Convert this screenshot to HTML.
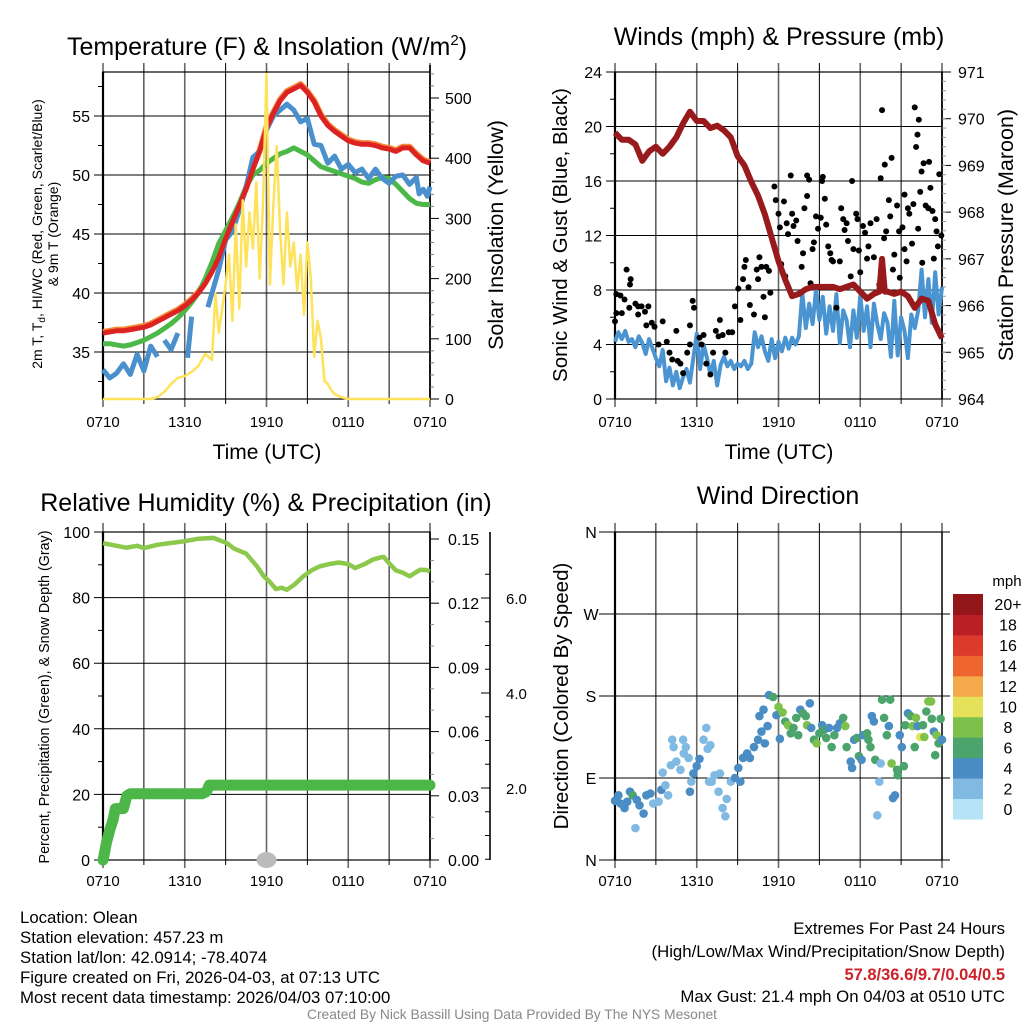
<!DOCTYPE html>
<html><head><meta charset="utf-8"><title>Olean Meteogram</title>
<style>
html,body{margin:0;padding:0;background:#fff;}
svg{display:block;font-family:"Liberation Sans",Arial,sans-serif;}
</style></head>
<body>
<svg id="fig" width="1024" height="1024" viewBox="0 0 1024 1024" xmlns="http://www.w3.org/2000/svg"></svg>
<script>
// ---------- DATA ----------
const timeLabels = ["0710","1310","1910","0110","0710"];
const tempHours = [0,0.5,1,1.5,2,2.5,3,3.5,4,4.5,5,5.5,6,6.5,7,7.5,8,8.5,9,9.5,10,10.5,11,11.5,12,12.5,13,13.5,14,14.5,15,15.5,16,16.5,17,17.5,18,18.5,19,19.5,20,20.5,21,21.5,22,22.5,23,23.5,24];
const tempRed = [36.6,36.7,36.8,36.8,36.9,37.0,37.1,37.3,37.6,37.9,38.2,38.5,38.9,39.4,40.0,40.8,41.8,43.0,44.6,46.0,47.4,48.8,50.5,52.0,54.0,55.2,56.3,57.0,57.3,57.6,57.0,56.2,55.0,54.2,53.7,53.3,52.9,52.7,52.6,52.6,52.5,52.3,52.2,52.0,52.3,52.3,51.7,51.2,51.0];
const temp9mOrange = [36.7,36.8,36.9,36.9,37.0,37.1,37.2,37.4,37.7,38.0,38.3,38.6,39.0,39.5,40.1,40.9,41.9,43.1,44.7,46.1,47.5,48.9,50.6,52.1,54.1,55.3,56.4,57.1,57.4,57.7,57.1,56.3,55.1,54.3,53.8,53.4,53.0,52.8,52.7,52.7,52.6,52.4,52.3,52.1,52.4,52.4,51.8,51.3,51.1];
const dewGreen = [35.7,35.7,35.6,35.5,35.6,35.8,36.0,36.3,36.6,37.0,37.4,37.9,38.5,39.2,40.0,41.2,42.6,44.2,45.3,46.4,47.6,49.0,50.0,50.4,51.0,51.4,51.8,52.0,52.3,52.0,51.7,51.2,50.7,50.5,50.3,50.1,49.9,49.7,49.4,49.3,49.6,49.8,49.7,49.2,48.6,48.0,47.6,47.5,47.5];
const windChillBlue = [33.5,32.8,33.2,34.0,33.1,34.8,33.4,35.5,34.6,null,36.0,35.2,36.6,null,34.5,38.0,null,39.5,null,38.8,42.0,44.5,45.2,47.0,49.0,51.5,52.0,53.8,55.0,55.5,56.0,55.5,54.5,54.8,52.6,52.5,51.0,51.6,50.5,50.9,50.2,50.5,49.7,50.5,49.7,49.3,49.9,50.0,49.2,49.8,48.4,48.8,48.2,49.0];
const windChillHours = [0,0.5,1,1.5,2,2.5,3,3.5,4,4.2,4.5,5,5.5,5.8,6.2,6.5,6.8,7.2,7.5,7.7,8.5,9,9.5,10,10.5,11,11.5,12,12.5,13,13.5,14,14.5,15,15.5,16,16.5,17,17.5,18,18.5,19,19.5,20,20.5,21,21.5,22,22.5,23,23.2,23.5,23.8,24];
const insolHours = [0,3.5,4,4.5,5,5.5,6,6.5,7,7.5,8,8.25,8.5,8.75,9,9.25,9.5,9.75,10,10.25,10.5,10.75,11,11.25,11.5,11.75,12,12.25,12.5,12.75,13,13.25,13.5,13.75,14,14.25,14.5,14.75,15,15.25,15.5,15.75,16,16.25,16.5,16.75,17,17.5,18,18.5,24];
const insolYellow = [0,0,3,12,25,35,38,45,55,75,65,175,110,150,190,240,130,290,150,330,220,310,250,360,200,330,540,190,320,420,280,190,310,220,260,180,240,140,260,200,70,130,100,30,25,15,8,3,0,0,0];
const windHours = [0,0.25,0.5,0.75,1,1.25,1.5,1.75,2,2.25,2.5,2.75,3,3.25,3.5,3.75,4,4.25,4.5,4.75,5,5.25,5.5,5.75,6,6.25,6.5,6.75,7,7.25,7.5,7.75,8,8.25,8.5,8.75,9,9.25,9.5,9.75,10,10.25,10.5,10.75,11,11.25,11.5,11.75,12,12.25,12.5,12.75,13,13.25,13.5,13.75,14,14.25,14.5,14.75,15,15.25,15.5,15.75,16,16.25,16.5,16.75,17,17.25,17.5,17.75,18,18.25,18.5,18.75,19,19.25,19.5,19.75,20,20.25,20.5,20.75,21,21.25,21.5,21.75,22,22.25,22.5,22.75,23,23.25,23.5,23.75,24];
const windBlue = [4.2,4.9,4.4,5.0,4.2,4.4,3.8,4.6,4.1,3.3,4.4,3.7,3.0,2.4,3.6,1.3,2.3,1.0,2.0,0.8,1.6,2.2,1.2,3.0,4.8,2.2,4.0,3.0,1.8,2.8,1.0,2.5,3.1,2.4,2.8,2.2,2.6,2.4,2.8,2.2,2.6,4.9,3.8,4.6,3.5,2.8,4.4,3.0,4.2,3.5,4.5,3.7,4.5,4.0,4.6,7.8,5.2,7.0,5.5,8.0,5.8,7.5,4.8,6.8,5.0,7.7,4.1,6.5,5.8,3.8,6.5,4.5,7.6,5.0,6.8,3.8,7.0,5.5,4.4,6.3,5.6,3.1,7.2,3.2,6.0,5.0,3.0,6.2,5.2,6.5,9.5,6.0,8.8,5.6,9.3,6.2,8.2,5.8,4.6];
const pressureHours = [0,0.5,1,1.5,2,2.5,3,3.5,4,4.5,5,5.5,6,6.5,7,7.5,8,8.5,9,9.5,10,10.5,11,11.5,12,12.5,13,13.5,14,14.5,15,15.5,16,16.5,17,17.5,18,18.5,19,19.4,19.6,19.8,20,20.5,21,21.5,22,22.5,23,23.5,24];
const pressureMaroon = [969.7,969.55,969.55,969.45,969.1,969.3,969.4,969.25,969.4,969.6,969.9,970.15,969.95,969.95,969.8,969.85,969.75,969.6,969.2,969.0,968.65,968.35,967.95,967.45,966.95,966.55,966.2,966.25,966.35,966.4,966.4,966.4,966.4,966.35,966.4,966.45,966.3,966.15,966.25,966.3,967.0,966.3,966.3,966.25,966.3,966.2,965.95,966.15,966.1,965.6,965.3];
const gustHours = [0,0.1,0.1,0.4,0.5,0.7,0.85,1.15,1.1,1.05,1.5,1.7,1.7,1.95,2.2,2.45,2.3,2.7,2.9,3.2,3.5,3.8,4.0,4.2,4.5,4.6,4.8,5.0,5.3,5.5,5.7,5.8,5.5,6.2,6.35,6.5,6.7,7.0,7.2,7.4,7.7,7.6,7.9,8.1,8.35,8.6,8.8,9.05,9.2,9.4,9.5,9.6,9.8,9.9,10.2,10.4,10.5,10.6,10.75,10.9,11.0,11.1,11.3,11.4,11.7,11.8,12.0,12.1,12.2,12.4,12.5,12.6,12.7,12.9,13.0,13.1,13.3,13.4,13.7,13.8,13.9,14.1,14.1,14.25,14.35,14.5,14.6,14.75,14.9,15.1,15.2,15.25,15.4,15.5,15.65,15.8,15.9,16.0,16.25,16.5,16.6,16.75,16.85,17.0,17.1,17.3,17.4,17.5,17.7,17.8,17.9,18.0,18.2,18.35,18.5,18.6,18.75,19.0,19.2,19.4,19.5,19.6,19.75,19.8,19.9,20.1,20.2,20.3,20.4,20.5,20.7,20.85,20.9,21.1,21.25,21.25,21.4,21.5,21.6,21.8,21.9,22.0,22.1,22.2,22.3,22.25,22.4,22.5,22.55,22.65,22.8,23.0,23.05,23.15,23.3,23.4,23.5,23.6,23.7,23.8,23.95];
const gustBlack = [5.7,6.3,7.7,7.6,6.3,7.3,9.5,8.8,8.4,6.7,7.0,6.8,6.2,6.8,6.4,6.8,5.4,5.6,5.3,4.0,5.7,4.2,3.4,2.9,5.0,2.8,2.6,1.9,3.4,4.0,7.2,6.7,5.4,4.5,4.0,4.7,2.6,1.8,3.4,5.0,5.8,4.6,4.7,3.4,4.9,4.9,6.8,8.1,5.8,8.8,9.7,10.2,8.2,6.9,6.2,9.5,8.8,10.4,9.7,7.5,6.0,9.7,9.4,7.8,15.6,14.6,13.6,12.6,9.9,14.5,9.0,12.9,12.1,16.4,13.6,12.7,13.1,11.6,9.7,10.7,14.0,14.9,16.4,16.1,8.5,11.0,11.5,13.4,12.5,13.3,16.0,16.3,14.7,12.8,11.2,10.7,10.2,10.1,6.7,10.1,14.0,13.2,12.4,12.9,11.6,9.0,16.0,11.0,13.6,13.2,10.9,9.3,12.7,12.2,10.3,11.2,12.9,10.4,13.2,8.4,16.2,21.2,11.8,17.2,12.3,14.6,13.4,17.7,9.5,10.6,14.2,12.3,8.9,12.6,11.0,15.0,10.1,14.0,13.6,11.4,14.3,21.4,18.5,19.4,20.5,12.5,15.2,16.7,10.0,17.3,14.2,14.0,17.4,15.5,13.8,10.3,13.2,12.3,11.2,16.5,12.0];
const rhHours = [0,1.25,1.7,2.5,3,4,4.7,6,6.9,8.1,9.1,9.6,10.5,11.3,11.8,12.3,12.7,13.1,13.5,14.0,14.7,15.3,15.9,16.6,17.3,18.0,18.5,19.2,19.8,20.4,20.6,21.0,21.5,22.0,22.5,23.0,23.3,23.7,24];
const rhGreen = [96.6,95.6,95.2,95.8,95.1,96.1,96.5,97.2,97.9,98.2,96.6,95.0,93.4,89.5,86.5,84.5,82.6,83.0,82.4,83.8,86.5,88.3,89.5,90.2,90.7,90.2,89.0,90.2,91.6,92.3,92.4,90.5,88.3,87.6,86.5,87.8,88.5,88.4,88.0];
const precipHours = [0,0.1,0.25,0.5,0.75,0.9,1.5,1.75,2.0,7.3,7.6,7.8,24];
const precipInches = [0,0.003,0.008,0.014,0.019,0.024,0.024,0.030,0.031,0.031,0.032,0.035,0.035];
const snowHours = [12];
const snowDepth = [0];
const dirHours = [0,0.25,0.4,0.7,0.9,1.1,1.3,1.5,1.6,1.8,2.1,2.3,2.6,2.8,3.2,3.4,3.7,3.9,3.5,4.1,4.3,4.2,4.5,4.8,5.0,5.2,5.05,5.4,5.6,5.5,5.75,6.0,6.2,6.5,6.7,6.8,7.0,6.9,7.1,7.3,7.6,7.7,7.9,8.2,8.1,8.5,8.8,9.05,9.2,9.4,9.7,9.9,10.2,10.5,10.75,11.0,10.6,10.9,11.2,11.3,11.6,11.85,12.0,12.1,12.3,12.5,12.7,12.9,13.1,13.3,13.45,13.6,13.8,14.0,14.1,14.3,14.4,14.6,14.8,15.0,15.2,15.35,15.5,15.7,15.9,16.1,16.3,16.5,16.75,16.9,17.0,17.3,17.4,17.55,17.75,17.9,18.1,18.2,18.5,18.6,18.75,18.85,19.0,19.1,19.25,19.4,19.5,19.6,19.75,19.95,20.1,20.2,20.3,20.4,20.55,20.7,20.75,20.9,21.05,21.2,21.3,21.5,21.7,21.85,22.0,22.1,22.2,22.4,22.6,22.7,22.85,23.0,23.2,23.25,23.4,23.5,23.6,23.75,23.9,24.0];
const dirDegrees = [65,71,62,57,64,75,71,35,66,60,51,71,73,62,64,77,82,71,96,104,124,132,108,99,132,124,117,112,86,75,95,103,111,132,145,122,126,86,86,93,75,95,57,67,48,86,90,101,86,112,117,112,124,132,141,128,158,165,147,181,179,159,168,133,162,152,148,139,145,156,137,165,161,158,148,172,145,132,128,139,148,143,134,145,124,137,145,150,156,147,124,108,101,132,134,114,110,137,139,132,124,158,152,110,49,86,106,176,156,137,147,176,106,68,71,99,93,137,124,103,148,161,158,147,124,156,147,135,148,135,163,174,174,155,141,115,137,128,155,132];
const dirSpeed = [4,4,4,4,4,4,6,2,4,4,4,4,4,2,2,4,1,2,2,2,2,1,2,2,1,2,1,2,2,4,4,4,3,2,2,1,2,1,2,2,2,2,2,2,2,2,4,4,4,4,4,4,4,4,4,4,4,3,4,4,6,4,8,4,7,6,8,6,6,6,6,4,6,6,8,4,4,6,8,6,4,6,6,4,6,6,4,4,6,8,6,4,4,4,6,6,4,4,6,6,6,4,4,6,2,2,2,6,6,6,4,6,8,4,4,6,6,4,4,6,6,4,6,8,6,8,4,10,6,8,6,8,8,6,4,6,8,6,6,4];
const speedBins = ["0","2","4","6","8","10","12","14","16","18","20+"];
const speedColors = ["#b5e3f6","#80b9e2","#4a8dc5","#4aa46c","#7cc24a","#e5e25a","#f4a94a","#ee6530","#dc3a2a","#bb1f26","#93161b"];
const tempTicks = [35,40,45,50,55];
const insolTicks = [0,100,200,300,400,500];
const windTicks = [0,4,8,12,16,20,24];
const presTicks = [964,965,966,967,968,969,970,971];
const rhTicks = [0,20,40,60,80,100];
const precipTicks = ["0.00","0.03","0.06","0.09","0.12","0.15"];
const snowTicks = ["2.0","4.0","6.0"];
const dirTicks = ["N","E","S","W","N"];

// ---------- HELPERS ----------
const NS = "http://www.w3.org/2000/svg";
const svg = document.getElementById("fig");
function mk(tag, attrs, parent){
  const e = document.createElementNS(NS, tag);
  for (const k in attrs) e.setAttribute(k, attrs[k]);
  (parent || svg).appendChild(e);
  return e;
}
function txt(str, x, y, size, anchor, parent, extra){
  const t = mk("text", Object.assign({x:x, y:y, "font-size":size, "text-anchor":anchor||"middle", fill:"#000"}, extra||{}), parent);
  t.textContent = str;
  return t;
}
function lin(a,b,c,d){ return v => c + (v-a)*(d-c)/(b-a); }
function pathFrom(xs, ys, fx, fy){
  let d = "", pen = false;
  for (let i=0;i<xs.length;i++){
    if (ys[i]===null){ pen=false; continue; }
    d += (pen?"L":"M") + fx(xs[i]).toFixed(1) + "," + fy(ys[i]).toFixed(1);
    pen = true;
  }
  return d;
}
function frame(g, x0, x1, y0, y1){
  const fx = lin(0,24,x0,x1);
  for (let h=0; h<=24; h+=3){
    const major = h%6===0;
    const l = mk("line",{x1:fx(h),x2:fx(h),y1:y0-9,y2:y1+ (major?8:5),stroke:major?"#666":"#000","stroke-width":major?1.6:1},g);
    
    
  }
  const b = mk("rect",{x:x0,y:y0,width:x1-x0,height:y1-y0,fill:"none",stroke:"#000","stroke-width":1.2},g);
  
  
  mk("line",{x1:x0,x2:x0,y1:y0,y2:y1,stroke:"#000","stroke-width":2.2},g);
  return fx;
}
function hGrid(g, x0, x1, y, len){
  const l = mk("line",{x1:x0-len,x2:x1,y1:y,y2:y,stroke:"#000","stroke-width":1},g);
  
  
}
function timeAxis(g, fx, y){
  for (let i=0;i<timeLabels.length;i++){
    const t = txt(timeLabels[i], fx(i*6), y, 15, "middle", g);
    
    
  }
}

// ---------- PANEL 1: Temperature ----------
(function(){
  const g = mk("g",{});
  
  
  const x0=103,x1=430,y0=72,y1=399;
  const fy = lin(50,55,175,116);
  const fi = lin(0,500,399,98);
  const fx = frame(g,x0,x1,y0,y1);
  tempTicks.forEach(v=>{
    hGrid(g,x0,x1,fy(v),9);
    const t = txt(String(v), x0-13, fy(v)+6, 16, "end", g);
    
    
  });
  for (let v=32.5; v<59; v+=5) mk("line",{x1:x0-5,x2:x0,y1:fy(v),y2:fy(v),stroke:"#000"},g);
  mk("line",{x1:x1,x2:x1,y1:y0-7,y2:y1,stroke:"#000","stroke-width":1.6},g);
  insolTicks.forEach(v=>{
    mk("line",{x1:x1,x2:x1+9,y1:fi(v),y2:fi(v),stroke:"#000"},g);
    const t = txt(String(v), x1+15, fi(v)+6, 16, "start", g);
    
    
  });
  for (let v=20; v<=540; v+=20) if (v%100) mk("line",{x1:x1,x2:x1+4,y1:fi(v),y2:fi(v),stroke:"#777"},g);
  timeAxis(g,fx,427);
  const pO = mk("path",{d:pathFrom(tempHours,temp9mOrange,fx,fy),fill:"none",stroke:"#f58a3a","stroke-width":6,"stroke-linejoin":"round"},g);
  
  
  const pG = mk("path",{d:pathFrom(tempHours,dewGreen,fx,fy),fill:"none",stroke:"#4cb848","stroke-width":5,"stroke-linejoin":"round"},g);
  
  
  const pB = mk("path",{d:pathFrom(windChillHours,windChillBlue,fx,fy),fill:"none",stroke:"#4a90cc","stroke-width":5,"stroke-linejoin":"round"},g);
  
  
  const pR = mk("path",{d:pathFrom(tempHours,tempRed,fx,fy),fill:"none",stroke:"#dd2222","stroke-width":5,"stroke-linejoin":"round"},g);
  
  
  const pY = mk("path",{d:pathFrom(insolHours,insolYellow,fx,fi),fill:"none",stroke:"#fde25a","stroke-width":2.5,"stroke-linejoin":"round"},g);
  
  
  const t1 = mk("text",{x:267,y:55,"font-size":25,"text-anchor":"middle"},g);
  t1.innerHTML = 'Temperature (F) &amp; Insolation (W/m<tspan dy="-10" font-size="15">2</tspan><tspan dy="10">)</tspan>';
  
  
  const yl = mk("text",{x:0,y:0,"font-size":14,"text-anchor":"middle",transform:"translate(42,234) rotate(-90)"},g);
  yl.innerHTML = '2m T, T<tspan dy="3" font-size="10">d</tspan><tspan dy="-3">, HI/WC (Red, Green, Scarlet/Blue)</tspan>';
  
  
  const yl2 = txt("& 9m T (Orange)",0,0,14,"middle",g,{transform:"translate(58,234) rotate(-90)"});
  
  
  const yr = txt("Solar Insolation (Yellow)",0,0,21.5,"middle",g,{transform:"translate(503,235) rotate(-90)"});
  
  
  const xt = txt("Time (UTC)",267,459,21,"middle",g);
  
  
})();

// ---------- PANEL 2: Winds & Pressure ----------
(function(){
  const g = mk("g",{});
  
  
  const x0=615,x1=942,y0=72,y1=399;
  const fw = lin(0,24,399,72);
  const fp = lin(964,971,399,72);
  const fx = frame(g,x0,x1,y0,y1);
  windTicks.forEach(v=>{
    hGrid(g,x0,x1,fw(v),9);
    const t = txt(String(v), x0-13, fw(v)+6, 16, "end", g);
    
    
  });
  for (let v=2; v<24; v+=4) mk("line",{x1:x0-5,x2:x0,y1:fw(v),y2:fw(v),stroke:"#000"},g);
  mk("line",{x1:x1,x2:x1,y1:y0,y2:y1,stroke:"#000","stroke-width":1.6},g);
  presTicks.forEach(v=>{
    mk("line",{x1:x1,x2:x1+9,y1:fp(v),y2:fp(v),stroke:"#000"},g);
    const t = txt(String(v), x1+16, fp(v)+6, 16, "start", g);
    
    
  });
  for (let v=964.2; v<971; v+=0.2) mk("line",{x1:x1,x2:x1+4,y1:fp(v),y2:fp(v),stroke:"#999"},g);
  timeAxis(g,fx,427);
  const pB = mk("path",{d:pathFrom(windHours,windBlue,fx,fw),fill:"none",stroke:"#4a94d2","stroke-width":4,"stroke-linejoin":"round"},g);
  
  
  for (let i=0;i<gustHours.length;i++){
    const c = mk("circle",{cx:fx(gustHours[i]),cy:fw(gustBlack[i]),r:3,fill:"#000"},g);
    
    
  }
  const pM = mk("path",{d:pathFrom(pressureHours,pressureMaroon,fx,fp),fill:"none",stroke:"#981a1c","stroke-width":6,"stroke-linejoin":"round"},g);
  
  
  const t1 = txt("Winds (mph) & Pressure (mb)",779,45,25,"middle",g);
  
  
  const yl = txt("Sonic Wind & Gust (Blue, Black)",0,0,20.5,"middle",g,{transform:"translate(567,235) rotate(-90)"});
  
  
  const yr = txt("Station Pressure (Maroon)",0,0,21.5,"middle",g,{transform:"translate(1013,235) rotate(-90)"});
  
  
  const xt = txt("Time (UTC)",779,459,21,"middle",g);
  
  
})();

// ---------- PANEL 3: RH & Precip ----------
(function(){
  const g = mk("g",{});
  
  
  const x0=103,x1=430,y0=532,y1=860;
  const fr = lin(0,100,860,532);
  const fpi = lin(0,0.15,860,539);
  const fs = lin(2,6,788,598);
  const fx = frame(g,x0,x1,y0,y1);
  rhTicks.forEach(v=>{
    hGrid(g,x0,x1,fr(v),9);
    const t = txt(String(v), x0-13, fr(v)+6, 16, "end", g);
    
    
  });
  for (let v=10; v<100; v+=20) mk("line",{x1:x0-5,x2:x0,y1:fr(v),y2:fr(v),stroke:"#000"},g);
  mk("line",{x1:x1,x2:x1,y1:y0,y2:y1,stroke:"#000","stroke-width":1.6},g);
  precipTicks.forEach(s=>{
    const v = parseFloat(s);
    mk("line",{x1:x1,x2:x1+9,y1:fpi(v),y2:fpi(v),stroke:"#000"},g);
    const t = txt(s, x1+18, fpi(v)+6, 16, "start", g);
    
    
  });
  for (let v=0.01; v<0.15; v+=0.01) if (Math.round(v*100)%3) mk("line",{x1:x1,x2:x1+4,y1:fpi(v),y2:fpi(v),stroke:"#888"},g);
  const sa = mk("line",{x1:490,x2:490,y1:y0,y2:y1,stroke:"#000","stroke-width":1.6},g);
  
  
  snowTicks.forEach(s=>{
    const v = parseFloat(s);
    mk("line",{x1:490,x2:481,y1:fs(v),y2:fs(v),stroke:"#000"},g);
    const t = txt(s, 506, fs(v)+6, 15, "start", g);
    
    
  });
  for (let v=0.5; v<7; v+=0.5) if (v%2 && fs(v)>y0 && fs(v)<y1) mk("line",{x1:490,x2:485,y1:fs(v),y2:fs(v),stroke:"#000"},g);
  timeAxis(g,fx,886);
  const pP = mk("path",{d:pathFrom(precipHours,precipInches,fx,fpi),fill:"none",stroke:"#4db648","stroke-width":11,"stroke-linejoin":"round","stroke-linecap":"round"},g);
  
  
  const pR = mk("path",{d:pathFrom(rhHours,rhGreen,fx,fr),fill:"none",stroke:"#8cc84b","stroke-width":4.5,"stroke-linejoin":"round"},g);
  
  
  for (let i=0;i<snowHours.length;i++){
    const e = mk("ellipse",{cx:fx(snowHours[i]),cy:fr(snowDepth[i]),rx:10,ry:8,fill:"#bbbbbb"},g);
    
    
  }
  const t1 = txt("Relative Humidity (%) & Precipitation (in)",266,511,25,"middle",g);
  
  
  const yl = txt("Percent, Precipitation (Green), & Snow Depth (Gray)",0,0,14.3,"middle",g,{transform:"translate(49,697) rotate(-90)"});
  
  
})();

// ---------- PANEL 4: Wind Direction ----------
(function(){
  const g = mk("g",{});
  
  
  const x0=615,x1=942,y0=532,y1=860;
  const fd = lin(0,360,860,532);
  const fx = frame(g,x0,x1,y0,y1);
  dirTicks.forEach((s,i)=>{
    const y = fd(i*90);
    hGrid(g,x0,x1+8,y,16);
    const t = txt(s, 591, y+6, 16, "middle", g);
    
    
  });
  timeAxis(g,fx,886);
  for (let i=0;i<dirHours.length;i++){
    const bin = Math.min(10, Math.round(dirSpeed[i]/2));
    const c = mk("circle",{cx:fx(dirHours[i]),cy:fd(dirDegrees[i]),r:4.3,fill:speedColors[bin]},g);
    
    
  }
  const t1 = txt("Wind Direction",778,504,25,"middle",g);
  
  
  const yl = txt("Direction (Colored By Speed)",0,0,20.5,"middle",g,{transform:"translate(568,696) rotate(-90)"});
  
  
  const cb = mk("g",{},g);
  
  
  const cbTop=594, cbBot=819, bh=(cbBot-cbTop)/speedBins.length;
  for (let i=0;i<speedBins.length;i++){
    const y = cbBot - (i+1)*bh;
    const r = mk("rect",{x:953,y:y,width:30,height:bh+0.5,fill:speedColors[i]},cb);
    
    
    const t = txt(speedBins[i], 1008, y+bh/2+6, 16, "middle", cb);
    
    
  }
  const u = txt("mph",1007,586,15,"middle",cb);
  
  
})();

// ---------- FOOTER ----------
(function(){
  const g = mk("g",{});
  
  
  const left = ["Location: Olean","Station elevation: 457.23 m","Station lat/lon: 42.0914; -78.4074","Figure created on Fri, 2026-04-03, at 07:13 UTC","Most recent data timestamp: 2026/04/03 07:10:00"];
  left.forEach((s,i)=>{
    const t = txt(s, 20, 923+i*20, 16.8, "start", g);
    
    
  });
  const a = txt("Extremes For Past 24 Hours",1005,934,16.8,"end",g);
  
  
  const b = txt("(High/Low/Max Wind/Precipitation/Snow Depth)",1005,957,16.8,"end",g);
  
  
  const c = txt("57.8/36.6/9.7/0.04/0.5",1005,980,16.5,"end",g,{fill:"#cc2229","font-weight":"bold"});
  
  
  const d = txt("Max Gust: 21.4 mph On 04/03 at 0510 UTC",1005,1002,16.8,"end",g);
  
  
  const e = txt("Created By Nick Bassill Using Data Provided By The NYS Mesonet",512,1019,13.8,"middle",g,{fill:"#888"});
  
  
})();
</script>
</body></html>
